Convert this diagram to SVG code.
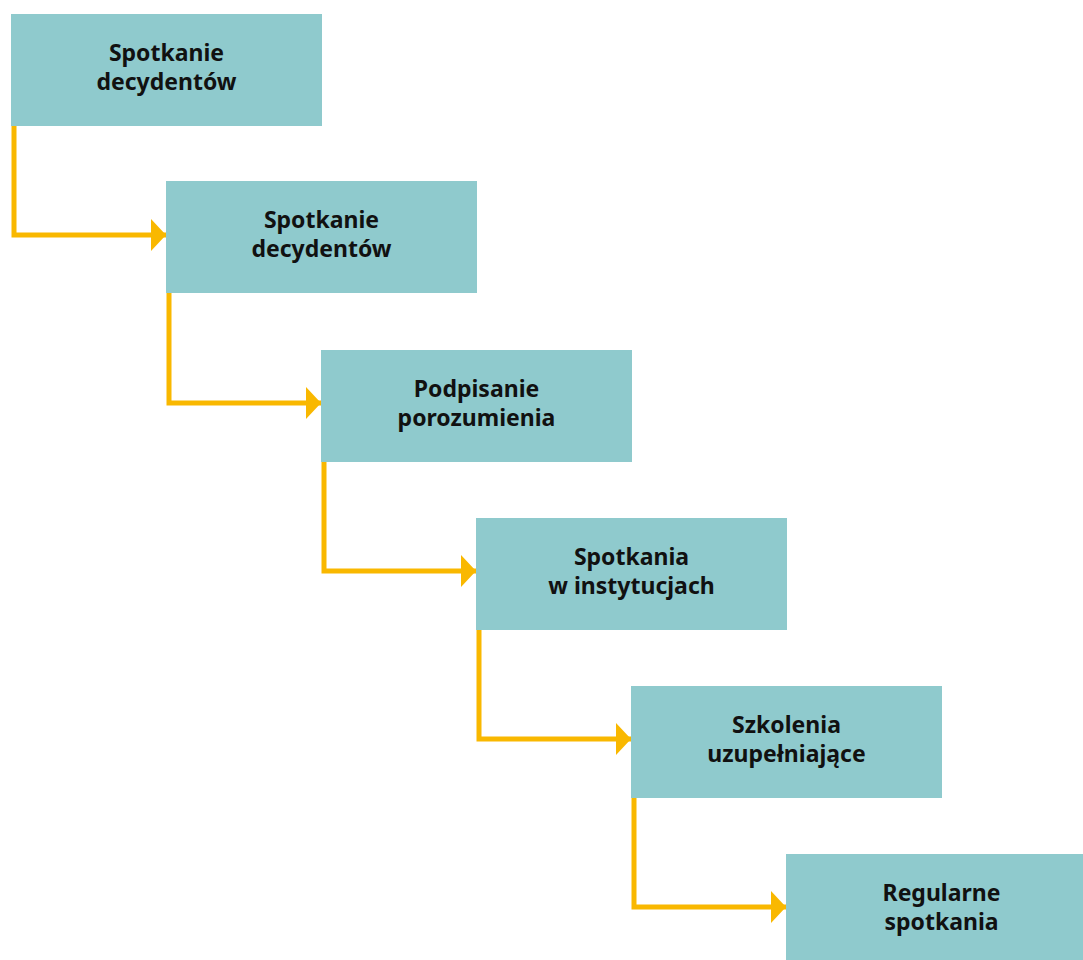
<svg xmlns="http://www.w3.org/2000/svg" width="1083" height="960" viewBox="0 0 1083 960">
  <style>
    .box { fill: #8fcacd; }
    .lbl { font-family: "Noto Sans", "Open Sans", sans-serif; font-weight: 700; font-size: 23px; fill: #111; text-anchor: middle; }
    .link { fill: none; stroke: #f9b800; stroke-width: 5; }
  </style>
  <defs>
    <marker id="arrow" markerUnits="userSpaceOnUse" markerWidth="16" markerHeight="32" refX="15" refY="16" orient="auto">
      <path d="M0,0 L15,16 L0,32 Z" fill="#f9b800"/>
    </marker>
  </defs>
  <rect width="1083" height="960" fill="#ffffff"/>

  <g id="connectors">
    <path class="link" d="M14,126 V235 H166" marker-end="url(#arrow)"/>
    <path class="link" d="M169,293 V403 H321" marker-end="url(#arrow)"/>
    <path class="link" d="M324,462 V571 H476" marker-end="url(#arrow)"/>
    <path class="link" d="M479,630 V739 H631" marker-end="url(#arrow)"/>
    <path class="link" d="M634,798 V907 H786" marker-end="url(#arrow)"/>
  </g>

  <g id="node1">
    <rect class="box" x="11" y="14" width="311" height="112"/>
    <text class="lbl" x="166.5" y="61">Spotkanie</text>
    <text class="lbl" x="166.5" y="90">decydentów</text>
  </g>
  <g id="node2">
    <rect class="box" x="166" y="181" width="311" height="112"/>
    <text class="lbl" x="321.5" y="228">Spotkanie</text>
    <text class="lbl" x="321.5" y="257">decydentów</text>
  </g>
  <g id="node3">
    <rect class="box" x="321" y="350" width="311" height="112"/>
    <text class="lbl" x="476.5" y="397">Podpisanie</text>
    <text class="lbl" x="476.5" y="426">porozumienia</text>
  </g>
  <g id="node4">
    <rect class="box" x="476" y="518" width="311" height="112"/>
    <text class="lbl" x="631.5" y="565">Spotkania</text>
    <text class="lbl" x="631.5" y="594">w instytucjach</text>
  </g>
  <g id="node5">
    <rect class="box" x="631" y="686" width="311" height="112"/>
    <text class="lbl" x="786.5" y="733">Szkolenia</text>
    <text class="lbl" x="786.5" y="762">uzupełniające</text>
  </g>
  <g id="node6">
    <rect class="box" x="786" y="854" width="297" height="106"/>
    <text class="lbl" x="941.5" y="901">Regularne</text>
    <text class="lbl" x="941.5" y="930">spotkania</text>
  </g>
</svg>
